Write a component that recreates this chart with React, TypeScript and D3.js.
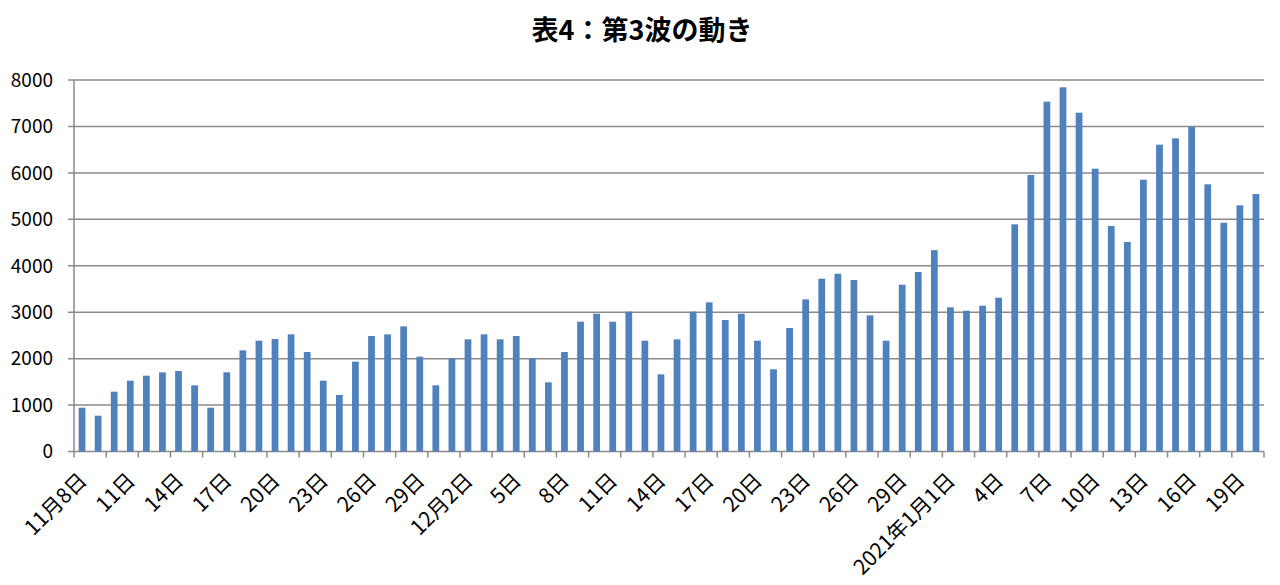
import React from "react";
import * as d3 from "d3";

// Daily new cases, 2020-11-08 .. 2021-01-20
const novValues = [943, 771, 1288, 1525, 1633, 1705, 1733, 1425, 943, 1705, 2178, 2386, 2422, 2523, 2142, 1525, 1217, 1934, 2487, 2523, 2695, 2042, 1425];
const decValues = [2006, 2415, 2523, 2415, 2487, 2006, 1489, 2142, 2795, 2967, 2795, 3011, 2386, 1662, 2415, 3011, 3212, 2832, 2967, 2386, 1770, 2659, 3277, 3721, 3829, 3693, 2932, 2386, 3592, 3865, 4335];
const janValues = [3105, 3032, 3140, 3312, 4892, 5954, 7533, 7842, 7296, 6090, 4856, 4511, 5853, 6607, 6744, 6988, 5754, 4927, 5301, 5545];

const yTicks = [0, 1000, 2000, 3000, 4000, 5000, 6000, 7000, 8000];
const title = "表4：第3波の動き";

type Day = { key: string; label: string; value: number };

function buildDays(): Day[] {
  const out: Day[] = [];
  novValues.forEach((v, i) => {
    const d = 8 + i;
    out.push({ key: `11-${d}`, label: d === 8 ? "11月8日" : `${d}日`, value: v });
  });
  decValues.forEach((v, i) => {
    const d = 1 + i;
    out.push({ key: `12-${d}`, label: d === 2 ? "12月2日" : `${d}日`, value: v });
  });
  janValues.forEach((v, i) => {
    const d = 1 + i;
    out.push({ key: `1-${d}`, label: d === 1 ? "2021年1月1日" : `${d}日`, value: v });
  });
  return out;
}

const days = buildDays();

export default function App() {
  const W = 1280;
  const H = 585;
  const x0 = 74;
  const x1 = 1264;
  const yTop = 80;
  const yBottom = 451.5;

  const x = d3
    .scaleBand<string>()
    .domain(days.map((d) => d.key))
    .range([x0, x1])
    .paddingInner(0.58)
    .paddingOuter(0.29);
  const y = d3.scaleLinear().domain([0, 8000]).range([yBottom, yTop]);
  const step = x.step();
  const font = "'Noto Sans CJK JP', 'Noto Sans', sans-serif";
  const gridColor = "#8a8a8a";

  const tickIdx = d3.range(0, days.length + 1, 2);

  return (
    <svg
      width={W}
      height={H}
      style={{ position: "absolute", left: 0, top: 0, background: "#fff" }}
    >
      <rect x={0} y={0} width={W} height={H} fill="#fff" />
      <text
        x={642}
        y={40}
        textAnchor="middle"
        fontFamily={font}
        fontWeight={700}
        fontSize={27}
        fill="#000"
      >
        {title}
      </text>

      {/* gridlines + y labels */}
      {yTicks.map((t) => (
        <g key={t}>
          <line
            x1={x0 - 6}
            x2={x1}
            y1={y(t)}
            y2={y(t)}
            stroke={gridColor}
            strokeWidth={1.5}
          />
          <text
            x={53}
            y={y(t)}
            dy="0.36em"
            textAnchor="end"
            fontFamily={font}
            fontSize={19}
            fill="#000"
          >
            {t}
          </text>
        </g>
      ))}

      {/* y axis */}
      <line x1={x0} x2={x0} y1={yTop} y2={yBottom} stroke={gridColor} strokeWidth={1.5} />

      {/* bars */}
      {days.map((d) => (
        <rect
          key={d.key}
          x={x(d.key)}
          y={y(d.value)}
          width={x.bandwidth()}
          height={yBottom - y(d.value)}
          fill="#4F81BD"
        />
      ))}

      {/* x ticks */}
      {tickIdx.map((i) => (
        <line
          key={i}
          x1={x0 + i * step}
          x2={x0 + i * step}
          y1={yBottom}
          y2={yBottom + 6}
          stroke={gridColor}
          strokeWidth={1.5}
        />
      ))}

      {/* x labels */}
      {days.map((d, i) =>
        i % 3 === 0 ? (
          <text
            key={d.key}
            transform={`translate(${(x(d.key) as number) + x.bandwidth() / 2 + 6},${482}) rotate(-45)`}
            textAnchor="end"
            fontFamily={font}
            fontSize={21}
            fill="#000"
          >
            {d.label}
          </text>
        ) : null
      )}
    </svg>
  );
}
